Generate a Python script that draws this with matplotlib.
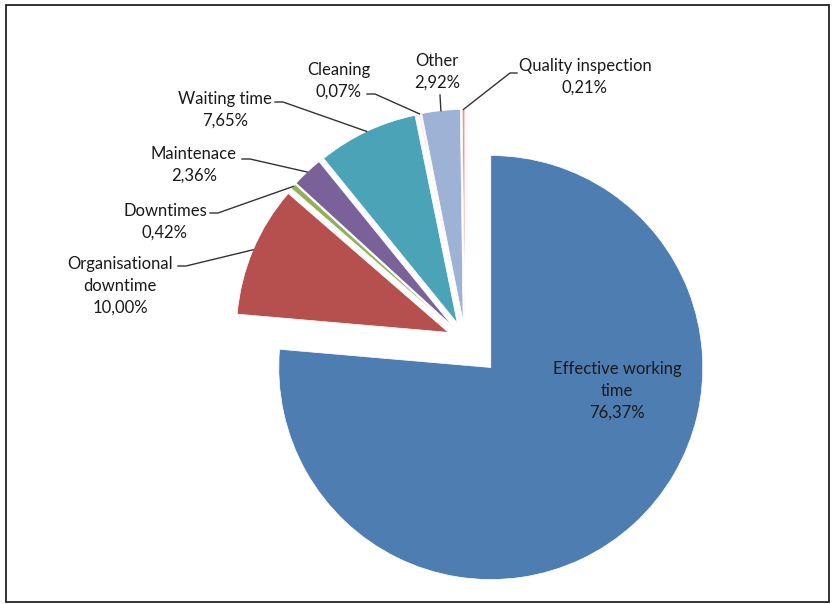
import numpy as np
import matplotlib
matplotlib.use("Agg")
import matplotlib.pyplot as plt
from matplotlib.patches import Rectangle

# data
labels = ["Effective working\ntime", "Organisational\ndowntime", "Downtimes", "Maintenace",
          "Waiting time", "Cleaning", "Other", "Quality inspection"]
values = [76.37, 10.00, 0.42, 2.36, 7.65, 0.07, 2.92, 0.21]
colors = ["#4E7DB1", "#B5504E", "#92B05A", "#7A6199", "#4BA3B8", "#F79646", "#9EB2D6", "#E69A99"]
explode_frac = [0.18, 0.085, 0.085, 0.085, 0.085, 0.085, 0.085, 0.085]

W, H = 833, 604
plt.rcParams['font.family'] = ['Lato', 'DejaVu Sans']

fig = plt.figure(figsize=(W / 100, H / 100), dpi=100)
ax = fig.add_axes([0, 0, 1, 1])

# pixel-like coordinates, y measured upward
cx, cy, R = 465, H - 339.4, 212
# pie's explode is in data units, so scale by the radius
wedges, _ = ax.pie(values, explode=[e * R for e in explode_frac], colors=colors,
                   startangle=90, counterclock=False, center=(cx, cy), radius=R,
                   wedgeprops=dict(edgecolor="white", linewidth=0.5))
ax.set_xlim(0, W)
ax.set_ylim(0, H)
ax.set_aspect("equal")
ax.axis("off")

# outer border
ax.add_patch(Rectangle((6.5, 2.5), 823, 597, fill=False, edgecolor="#222222", linewidth=1.3))


def fmt(v):
    return f"{v:.2f}".replace(".", ",") + "%"


def anchor(w):
    # point on the outer arc at the wedge's middle angle
    mid = np.deg2rad((w.theta1 + w.theta2) / 2)
    return w.center[0] + w.r * np.cos(mid), w.center[1] + w.r * np.sin(mid)


# label text centre (x, y from top) and where the leader line leaves the text
label_pos = {
    0: ((617, 391), None),
    1: ((120, 286), [(178, 266), (186, 266)]),
    2: ((165, 222), [(210, 213), (218, 213)]),
    3: ((194, 165), [(242, 159), (250, 159)]),
    4: ((225, 110), [(275, 102), (283, 102)]),
    5: ((339, 81), [(367, 94), (375, 94)]),
    6: ((437, 72), [(440, 95)]),
    7: ((585, 77), [(517, 73), (510, 73)]),
}

for i, w in enumerate(wedges):
    (tx, ty), lead = label_pos[i]
    ax.text(tx, H - ty, labels[i] + "\n" + fmt(values[i]), ha="center", va="center",
            fontsize=12, color="#1a1a1a", linespacing=1.45)
    if lead:
        ax_, ay_ = anchor(w)
        xs = [p[0] for p in lead] + [ax_]
        ys = [H - p[1] for p in lead] + [ay_]
        ax.plot(xs, ys, color="#333333", linewidth=1.0)

fig.savefig("out.png", dpi=100)
